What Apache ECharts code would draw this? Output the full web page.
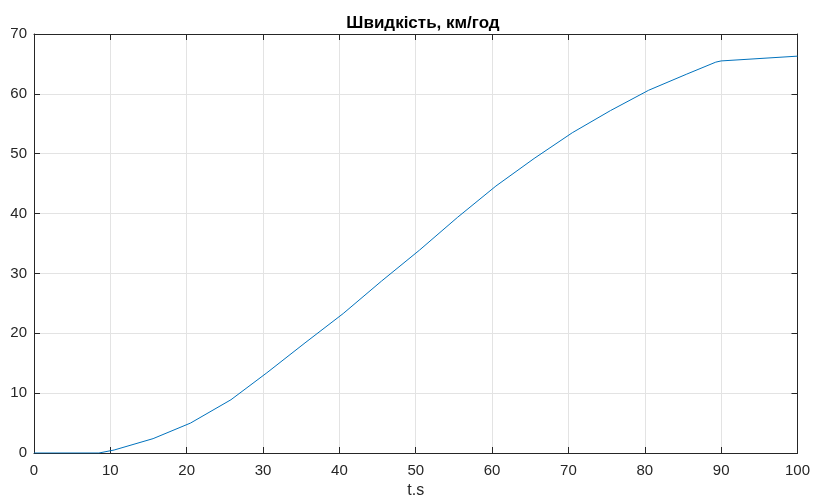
<!DOCTYPE html>
<html><head><meta charset="utf-8">
<script src="https://cdn.jsdelivr.net/npm/echarts@6/dist/echarts.min.js"></script>
<style>html,body{margin:0;padding:0;background:#fff}#c{width:813px;height:504px}</style>
</head><body><div id="c"></div>
<script>
const titleText = 'Швидкість, км/год';
const xName = 't.s';
const timeS = [0, 8.5, 10.5, 15.6, 20.5, 25.8, 30.5, 35.5, 40.5, 45.5, 50.5, 55.5, 60.5, 65.5, 70.5, 75.5, 80.5, 85.5, 89.3, 90, 100];
const speed = [0, 0, 0.5, 2.4, 5.0, 8.9, 13.4, 18.4, 23.3, 28.7, 33.9, 39.4, 44.6, 49.2, 53.5, 57.2, 60.6, 63.3, 65.3, 65.5, 66.3];
const xMin = 0, xMax = 100, xStep = 10;
const yMin = 0, yMax = 70, yStep = 10;

const axisCol = '#262626';
const font = 'Liberation Sans, Arial, sans-serif';
const chart = echarts.init(document.getElementById('c'));
const pts = timeS.map((t, i) => [t, speed[i]]);
const tickCommon = {show: true, inside: true, length: 6, lineStyle: {color: axisCol, width: 1}};
chart.setOption({
  animation: false,
  title: {text: titleText, left: 418, top: 10, textAlign: 'center',
    textStyle: {fontFamily: font, fontSize: 17, fontWeight: 'bold', color: '#000'}},
  grid: {left: 34, right: 11, top: 34, bottom: 46, containLabel: false},
  xAxis: [{
    type: 'value', min: xMin, max: xMax, interval: xStep, position: 'bottom',
    name: xName, nameLocation: 'middle', nameGap: 30,
    nameTextStyle: {fontFamily: font, fontSize: 16, color: axisCol},
    axisLine: {show: true, onZero: false, lineStyle: {color: axisCol, width: 1}},
    axisTick: tickCommon,
    axisLabel: {fontFamily: font, fontSize: 15, color: axisCol, margin: 10},
    splitLine: {show: true, lineStyle: {color: '#e3e3e3', width: 1}}
  }, {
    type: 'value', min: xMin, max: xMax, interval: xStep, position: 'top',
    axisLine: {show: true, onZero: false, lineStyle: {color: axisCol, width: 1}},
    axisTick: tickCommon, axisLabel: {show: false}, splitLine: {show: false}
  }],
  yAxis: [{
    type: 'value', min: yMin, max: yMax, interval: yStep, position: 'left',
    axisLine: {show: true, onZero: false, lineStyle: {color: axisCol, width: 1}},
    axisTick: tickCommon,
    axisLabel: {fontFamily: font, fontSize: 15, color: axisCol, margin: 7},
    splitLine: {show: true, lineStyle: {color: '#e3e3e3', width: 1}}
  }, {
    type: 'value', min: yMin, max: yMax, interval: yStep, position: 'right',
    axisLine: {show: true, onZero: false, lineStyle: {color: axisCol, width: 1}},
    axisTick: tickCommon, axisLabel: {show: false}, splitLine: {show: false}
  }],
  series: [{
    type: 'line', data: pts, showSymbol: false, smooth: false,
    lineStyle: {color: '#0072BD', width: 1}, itemStyle: {color: '#0072BD'}
  }]
});
</script></body></html>
